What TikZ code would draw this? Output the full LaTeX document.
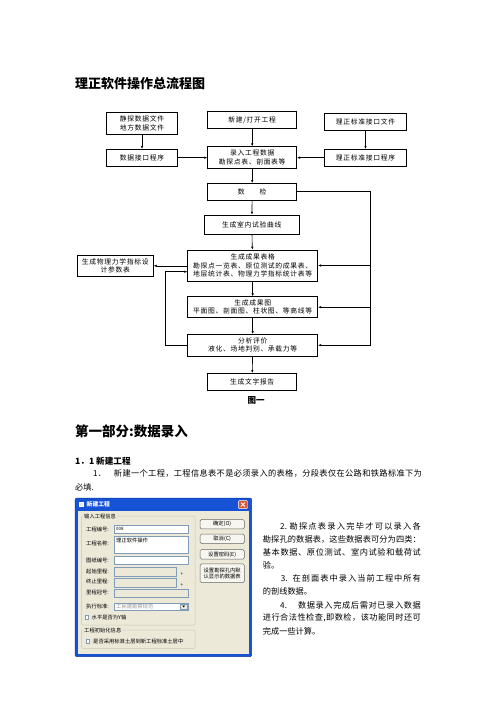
\documentclass[tikz,border=0pt]{standalone}
\usepackage{fontspec}
\setmainfont{Noto Sans CJK SC}
\newfontfamily\flowfont{Noto Sans CJK SC}[LetterSpace=10]
\usetikzlibrary{arrows.meta, positioning}
\definecolor{xpblue}{RGB}{22, 82, 214}
\definecolor{xpface}{RGB}{236, 233, 216}
\definecolor{xpedge}{RGB}{127, 157, 185}
\definecolor{xpline}{RGB}{200, 200, 185}
\definecolor{xpgray}{RGB}{150, 150, 150}
\definecolor{xpred}{RGB}{222, 86, 50}
\tikzset{
    blk/.style    ={draw=black, line width=0.6pt, fill=white,
                    minimum width=89, minimum height=16.7, inner sep=1pt,
                    align=center, font=\flowfont\fontsize{6.8}{8.4}\selectfont},
    ar/.style     ={-{Latex[length=3pt, width=2.4pt]}, line width=0.6pt},
    txt/.style    ={anchor=west, inner sep=0pt, font=\fontsize{8.2}{10}\selectfont},
    dlg/.style    ={anchor=west, inner sep=0pt, font=\fontsize{5.3}{6}\selectfont},
    field/.style  ={draw=xpedge, line width=0.4pt, fill=white},
    offfield/.style={draw=xpedge, line width=0.4pt, fill=xpface},
    grp/.style    ={draw=xpline, line width=0.5pt, rounded corners=1pt},
    btn/.style    ={draw=black!60, line width=0.5pt, fill=white!60!xpface,
                    rounded corners=1.5pt, minimum width=44.3, minimum height=9.5,
                    inner sep=0.5pt, align=center, font=\fontsize{5.3}{6.2}\selectfont}
}
% justified line: glue between every character
\def\spreadit#1{\ifx#1\relax\else#1\hfil\expandafter\spreadit\fi}
\newcommand{\jline}[3]{\hbox to #1{#2\spreadit#3\relax\unskip}}

\begin{document}
\begin{tikzpicture}[x=1pt, y=-1pt]
  \useasboundingbox[fill=white] (0,0) rectangle (496,702);

  \node[anchor=west, inner sep=0pt, font=\fontsize{13}{15}\selectfont\bfseries] (ttl) at (75,84) {理正软件操作总流程图};

  % input sources
  \node[blk, minimum width=70.6, minimum height=21.6] (srcfile) at (142,123.5) {静探数据文件\\地方数据文件};
  \node[blk] (newproj) at (252.2,120) {新建/打开工程};
  \node[blk, minimum width=82.4] (stdfile) at (365.5,121.7) {理正标准接口文件};
  \node[blk, minimum width=70.6] (srcprog) at (142,157.7) {数据接口程序};
  \node[blk, minimum height=21.6] (input) at (252.2,157.5) {录入工程数据\\勘探点表、剖面表等};
  \node[blk, minimum width=82.4] (stdprog) at (365.5,157.7) {理正标准接口程序};

  % main column
  \node[blk] (check) at (252.2,191.7) {数\hspace{2.2em}检};
  \node[blk, minimum width=95, minimum height=19.3] (curve) at (251.8,224.7) {生成室内试验曲线};
  \node[blk, minimum width=130, minimum height=31] (table) at (252.7,265.5) {生成成果表格\\勘探点一览表、原位测试的成果表、\\地层统计表、物理力学指标统计表等};
  \node[blk, minimum width=76, minimum height=21.7] (param) at (115.3,265.8) {生成物理力学指标设\\计参数表};
  \node[blk, minimum width=130, minimum height=21] (chart) at (252.7,307.2) {生成成果图\\平面图、剖面图、柱状图、等高线等};
  \node[blk, minimum width=130, minimum height=21.7] (eval) at (252.7,345.2) {分析评价\\液化、场地判别、承载力等};
  \node[blk] (report) at (252.2,381.7) {生成文字报告};
  \node[inner sep=0pt, font=\fontsize{8.5}{10}\selectfont\bfseries] (figno) at (256,400) {图一};

  \draw[ar] (srcfile) -- (srcprog);
  \draw[ar] (srcprog.east) -- (input.west |- srcprog);
  \draw[ar] (newproj) -- (input);
  \draw[ar] (stdfile) -- (stdprog);
  \draw[ar] (stdprog.west) -- (input.east |- stdprog);
  \draw[ar] (input) -- (check);
  \draw[ar] (check) -- (curve);
  \draw[ar] (curve) -- (table);
  \draw[ar] (table.west |- param) -- (param);
  \draw[ar] (table) -- (chart);
  \draw[ar] (chart) -- (eval);
  \draw[ar] (eval) -- (report);

  % right bus
  \coordinate (busr) at (370.7,0);
  \draw[ar] (check.east) -| (busr |- eval) -- (eval.east);
  \draw[ar] (busr |- table) -- (table.east);
  \draw[ar] (busr |- chart) -- (chart.east);
  % loop back on the left
  \coordinate (busl) at (165,271.7);
  \draw[ar] (eval.west) -| (busl) -- (busl -| table.west);

  % text
  \node[anchor=west, inner sep=0pt, font=\fontsize{13.5}{16}\selectfont\bfseries] (part1) at (75,431.7) {第一部分:数据录入};
  \node[anchor=west, inner sep=0pt, font=\fontsize{8.6}{10}\selectfont\bfseries] (sec11) at (75,461) {1．1 新建工程};
  \node[txt] (p1a) at (93,473.3) {\jline{328.7pt}{1．\hspace{8pt}}{新建一个工程，工程信息表不是必须录入的表格，分段表仅在公路和铁路标准下为}};
  \node[txt] (p1b) at (75,487.3) {必填.};

  \node[txt] (p2a) at (280,526) {\jline{140.7pt}{2.\hspace{2.5pt}}{勘探点表录入完毕才可以录入各}};
  \node[txt] (p2b) at (262.7,539.3) {\jline{158pt}{}{勘探孔的数据表，这些数据表可分为四类：}};
  \node[txt] (p2c) at (262.7,552.7) {\jline{158pt}{}{基本数据、原位测试、室内试验和载荷试}};
  \node[txt] (p2d) at (262.7,565.3) {验。};
  \node[txt] (p3a) at (280.7,578.7) {\jline{140pt}{3.\hspace{5pt}}{在剖面表中录入当前工程中所有}};
  \node[txt] (p3b) at (262.7,591.3) {的剖线数据。};
  \node[txt] (p4a) at (280,605) {\jline{140.7pt}{4.\hspace{11pt}}{数据录入完成后需对已录入数据}};
  \node[txt] (p4b) at (262.7,618) {\jline{158pt}{}{进行合法性检查,即数检，该功能同时还可}};
  \node[txt] (p4c) at (262.7,631) {完成一些计算。};

  % dialog window
  \draw[draw=xpblue!70!black, fill=xpblue, rounded corners=2pt, line width=0.5pt] (75,498) rectangle (251.7,656.7);
  \fill[xpface] (77.5,510.5) rectangle (249.2,654.2);
  \node[draw=white, fill=xpface, minimum size=4, inner sep=0pt] (dlgicon) at (81.5,504.3) {};
  \node[anchor=west, inner sep=0pt, text=white, font=\fontsize{5.8}{6}\selectfont\bfseries] (dlgttl) at (86.5,504.3) {新建工程};
  \node[draw=white, fill=xpred, rounded corners=1pt, minimum width=9.4, minimum height=8, inner sep=0pt] (dlgclose) at (243,504.6) {};
  \draw[white, line width=0.9pt] ([shift={(-2,-2)}]dlgclose.center) -- ([shift={(2,2)}]dlgclose.center);
  \draw[white, line width=0.9pt] ([shift={(-2,2)}]dlgclose.center) -- ([shift={(2,-2)}]dlgclose.center);

  \draw[grp] (81.7,516) rectangle (195,625);
  \node[dlg, fill=xpface, inner xsep=1pt] (grpinfo) at (83,516) {输入工程信息};
  \draw[grp] (81.7,630) rectangle (195,648.3);
  \node[dlg, fill=xpface, inner xsep=1pt] (grpinit) at (83,630) {工程初始化信息};

  \node[dlg] (lbno) at (86,529) {工程编号:};
  \node[dlg] (lbname) at (86,543.3) {工程名称:};
  \node[dlg] (lbdraw) at (86,560.7) {图纸编号:};
  \node[dlg] (lbstart) at (86,571.3) {起始里程:};
  \node[dlg] (lbend) at (86,581.7) {终止里程:};
  \node[dlg] (lbpre) at (86,592.3) {里程冠号:};
  \node[dlg] (lbstd) at (86,606.7) {执行标准:};

  \draw[field] (114.3,525) rectangle (187.7,533.3);
  \node[dlg, font=\fontsize{4.5}{5}\selectfont] (vno) at (116,529.2) {008};
  \draw[field] (114.3,536) rectangle (187.7,553.3);
  \node[dlg] (vname) at (116,540) {理正软件操作};
  \draw[field] (114.3,556) rectangle (187.7,564.3);
  \draw[offfield] (114.3,566.7) rectangle (176,576);
  \node[dlg, font=\fontsize{4.5}{5}\selectfont] (plusa) at (180.5,574) {+};
  \draw[offfield] (114.3,578.3) rectangle (176,587.3);
  \node[dlg, font=\fontsize{4.5}{5}\selectfont] (plusb) at (180.5,585.5) {+};
  \draw[offfield] (114.3,589.3) rectangle (187.7,597.3);
  \draw[field] (114.3,602.7) rectangle (187.7,610.3);
  \node[dlg, text=xpgray] (vstd) at (116,606.5) {工民建勘察规范};
  \draw[offfield] (180.5,603.7) rectangle (186.7,609.3);
  \fill[black] (182.2,605.6) -- (185,605.6) -- (183.6,607.4) -- cycle;

  \draw[field] (85,615.5) rectangle (88.5,619);
  \node[dlg] (chkaxis) at (91.5,617.3) {水平是否为Y轴};
  \draw[field] (86,639.3) rectangle (89.5,642.8);
  \node[dlg] (chkinit) at (93,641) {是否采用标准土层到新工程标准土层中};

  \node[btn] (bok) at (222.2,524.2) {确定(O)};
  \node[btn] (bcancel) at (222.2,538.8) {取消(C)};
  \node[btn] (bpwd) at (222.2,554.3) {设置密码(E)};
  \node[btn, minimum height=18.7] (bshow) at (222.2,573.3) {设置勘探孔内默\\认显示的数据表};
\end{tikzpicture}
\end{document}
